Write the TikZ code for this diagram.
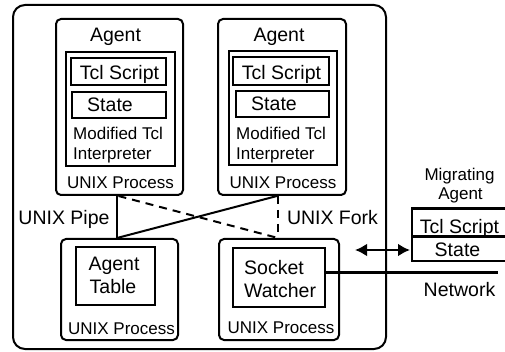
\documentclass[tikz,border=0pt]{standalone}
\usepackage{fontspec}
\setmainfont{Liberation Sans}
\usetikzlibrary{arrows.meta}
\begin{document}
\begin{tikzpicture}[x=1pt,y=-1pt,
  proc/.style={draw, line width=2pt, rounded corners=5pt, inner sep=0pt},
  box/.style={draw, line width=2pt, inner sep=0pt},
  big/.style={inner sep=0pt, font=\fontsize{19.5}{23.5}\selectfont},
  small/.style={inner sep=0pt, font=\fontsize{17}{20}\selectfont},
  link/.style={line width=2pt},
  forklink/.style={line width=2pt, dash pattern=on 8pt off 6pt},
]
\useasboundingbox (0,0) rectangle (505,352);

% host machine
\node[proc, rounded corners=12pt, minimum width=373pt, minimum height=344pt] (host) at (199.5,177) {};

% first agent process
\node[proc, minimum width=127pt, minimum height=176pt] (a1) at (119.5,107) {};
\node[box, minimum width=109pt, minimum height=114pt] (i1) at (120.5,109) {};
\node[box, minimum width=95pt, minimum height=27pt] (s1) at (118.5,71.5) {};
\node[box, minimum width=94pt, minimum height=26pt] (st1) at (119,105) {};
\node[big, anchor=base] (a1lab) at (115.5,41.5) {Agent};
\node[big, anchor=base] (s1lab) at (119.5,80) {Tcl Script};
\node[big, anchor=base] (st1lab) at (110,111.5) {State};
\node[small, anchor=base west] (i1lab) at (73,139.5) {Modified Tcl};
\node[small, anchor=base west] (i1lab2) at (73,159.5) {Interpreter};
\node[small, anchor=base] (a1proc) at (120.5,188.5) {UNIX Process};

% second agent process
\node[proc, minimum width=128pt, minimum height=176pt] (a2) at (282,107) {};
\node[box, minimum width=108pt, minimum height=114pt] (i2) at (283,108.5) {};
\node[box, minimum width=96pt, minimum height=28pt] (s2) at (281,71) {};
\node[box, minimum width=93pt, minimum height=26pt] (st2) at (282.5,104) {};
\node[big, anchor=base] (a2lab) at (279,41.5) {Agent};
\node[big, anchor=base] (s2lab) at (281.5,80) {Tcl Script};
\node[big, anchor=base] (st2lab) at (274,111) {State};
\node[small, anchor=base west] (i2lab) at (236,139.5) {Modified Tcl};
\node[small, anchor=base west] (i2lab2) at (236,159.5) {Interpreter};
\node[small, anchor=base] (a2proc) at (283,188.5) {UNIX Process};

% agent table process
\node[proc, minimum width=117pt, minimum height=101pt] (tab) at (119.5,289.5) {};
\node[box, minimum width=79pt, minimum height=58pt] (tabin) at (115.5,276) {};
\node[big, anchor=base] (tablab) at (114,270) {Agent};
\node[big, anchor=base] (tablab2) at (113,293.5) {Table};
\node[small, anchor=base] (tabproc) at (121.5,334.5) {UNIX Process};

% socket watcher process
\node[proc, minimum width=120pt, minimum height=101pt] (sock) at (279,289.5) {};
\node[box, minimum width=92pt, minimum height=59pt] (sw) at (279,277.5) {};
\node[big, anchor=base west] (swlab) at (244,274) {Socket};
\node[big, anchor=base west] (swlab2) at (244,297.5) {Watcher};
\node[small, anchor=base] (sockproc) at (281,333.5) {UNIX Process};

% pipes and forks between the processes
\draw[link] ([xshift=-2.5pt]a1.south) -- ([xshift=-2.5pt]tab.north);
\draw[link] ([xshift=-2.5pt]tab.north) -- ([xshift=-5pt]a2.south);
\draw[forklink] ([xshift=-1pt]a1.south) -- ([xshift=-1pt]sock.north);
\draw[forklink] ([xshift=-4pt]a2.south) -- ([xshift=-1pt]sock.north);
\node[big, anchor=base] (pipelab) at (64,224.3) {UNIX Pipe};
\node[big, anchor=base] (forklab) at (332.5,224.3) {UNIX Fork};

% migrating agent, entering from the network
\node[small, anchor=base] (miglab) at (459.5,180.5) {Migrating};
\node[small, anchor=base] (miglab2) at (460.5,199.5) {Agent};
\coordinate (mtop) at (412,209);
\coordinate (mmid) at (412,237);
\coordinate (mbot) at (412,260.5);
\draw[line width=2pt] (mtop) -- (mbot) -- ++(100,0);
\draw[line width=3pt] ([xshift=-1pt]mtop) -- ++(101,0);
\draw[line width=3pt] (mmid) -- ++(100,0);
\node[big, anchor=base] (mtcl) at (459.5,233.3) {Tcl Script};
\node[big, anchor=base] (mstate) at (457.5,256.5) {State};
\coordinate (arrL) at (355,250);
\coordinate (arrR) at (410,250);
\draw[line width=2.6pt, {Latex[length=12pt,width=13pt]}-{Latex[length=12pt,width=13pt]}] (arrL) -- (arrR);

% network line
\coordinate (netend) at (498,272);
\draw[line width=3pt] (sw.east |- netend) -- (netend);
\node[big, anchor=base] (netlab) at (459.5,296.7) {Network};
\end{tikzpicture}
\end{document}
